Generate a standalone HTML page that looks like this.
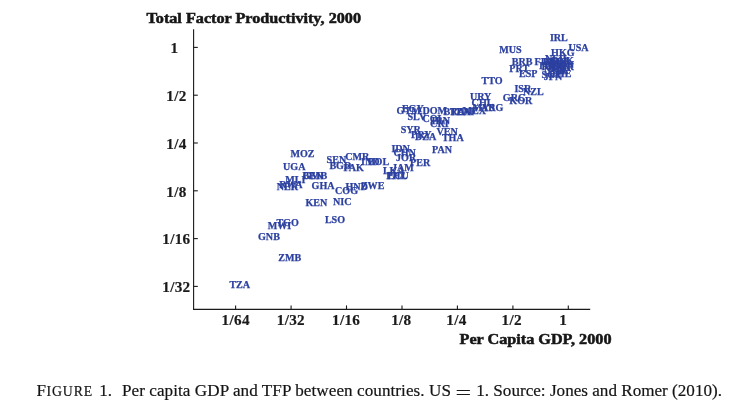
<!DOCTYPE html>
<html lang="en">
<head>
<meta charset="utf-8">
<title>Figure 1. Per capita GDP and TFP between countries</title>
<style>
html,body{margin:0;padding:0;background:#fff;}
body{width:731px;height:418px;overflow:hidden;position:relative;}
svg{position:absolute;left:0;top:0;display:block;}
text{font-family:"Liberation Serif","DejaVu Serif",serif;}
.lab text{font-size:10.1px;font-weight:bold;fill:#2c40a0;stroke:#2c40a0;stroke-width:0.25px;}
.tick text{font-size:15.2px;font-weight:bold;fill:#1a1a1a;stroke:#1a1a1a;stroke-width:0.18px;letter-spacing:0.3px;text-anchor:middle;}
.title{font-size:14.1px;font-weight:bold;fill:#161616;stroke:#161616;stroke-width:0.5px;}
.cap{font-size:17.1px;fill:#141414;stroke:#141414;stroke-width:0.2px;}
.sc{font-size:13.8px;letter-spacing:0.85px;}
.eq{font-size:19px;fill:#1a1a1a;}
.ax line{stroke:#1a1a1a;stroke-width:1.1;}
</style>
</head>
<body>
<svg width="731" height="418" viewBox="0 0 731 418">
<rect x="0" y="0" width="731" height="418" fill="#ffffff"/>
<g class="ax">
<line x1="193.6" y1="29.3" x2="193.6" y2="309.9"/>
<line x1="193.1" y1="309.4" x2="590.2" y2="309.4"/>
<line x1="235.6" y1="305.4" x2="235.6" y2="309.4"/>
<line x1="291.1" y1="305.4" x2="291.1" y2="309.4"/>
<line x1="346.5" y1="305.4" x2="346.5" y2="309.4"/>
<line x1="402.0" y1="305.4" x2="402.0" y2="309.4"/>
<line x1="457.4" y1="305.4" x2="457.4" y2="309.4"/>
<line x1="512.9" y1="305.4" x2="512.9" y2="309.4"/>
<line x1="568.3" y1="305.4" x2="568.3" y2="309.4"/>
<line x1="193.6" y1="47.4" x2="197.8" y2="47.4"/>
<line x1="193.6" y1="95.2" x2="197.8" y2="95.2"/>
<line x1="193.6" y1="143.0" x2="197.8" y2="143.0"/>
<line x1="193.6" y1="190.8" x2="197.8" y2="190.8"/>
<line x1="193.6" y1="238.6" x2="197.8" y2="238.6"/>
<line x1="193.6" y1="286.4" x2="197.8" y2="286.4"/>
</g>
<g class="tick">
<text x="235.7" y="325.0">1/64</text>
<text x="290.9" y="325.0">1/32</text>
<text x="346.1" y="325.0">1/16</text>
<text x="401.3" y="325.0">1/8</text>
<text x="456.5" y="325.0">1/4</text>
<text x="511.7" y="325.0">1/2</text>
<text x="563.3" y="325.0">1</text>
<text x="174.5" y="53.2">1</text>
<text x="176.4" y="101.0">1/2</text>
<text x="176.4" y="148.8">1/4</text>
<text x="176.4" y="196.6">1/8</text>
<text x="176.4" y="244.4">1/16</text>
<text x="176.4" y="292.2">1/32</text>
</g>
<text class="title" x="146.5" y="22.6" textLength="214.5" lengthAdjust="spacingAndGlyphs">Total Factor Productivity, 2000</text>
<text class="title" x="459.5" y="343.8" textLength="152" lengthAdjust="spacingAndGlyphs">Per Capita GDP, 2000</text>
<g class="lab">
<text x="229.4" y="288.3">TZA</text>
<text x="278.3" y="260.9">ZMB</text>
<text x="258.0" y="239.8">GNB</text>
<text x="267.7" y="228.8">MWI</text>
<text x="276.4" y="225.8">TGO</text>
<text x="324.9" y="223.0">LSO</text>
<text x="305.4" y="205.9">KEN</text>
<text x="333.0" y="204.7">NIC</text>
<text x="290.4" y="156.8">MOZ</text>
<text x="283.0" y="169.7">UGA</text>
<text x="326.6" y="162.7">SEN</text>
<text x="345.2" y="160.0">CMR</text>
<text x="361.0" y="164.5">IND</text>
<text x="367.8" y="165.2">BOL</text>
<text x="329.4" y="168.5">BGD</text>
<text x="343.4" y="170.8">PAK</text>
<text x="302.4" y="178.6">BEN</text>
<text x="303.0" y="178.6">GMB</text>
<text x="285.3" y="183.4">MLI</text>
<text x="279.3" y="188.0">RWA</text>
<text x="276.8" y="190.2">NER</text>
<text x="311.6" y="188.8">GHA</text>
<text x="335.0" y="193.5">COG</text>
<text x="345.4" y="190.1">HND</text>
<text x="360.9" y="188.6">ZWE</text>
<text x="391.4" y="152.0">IDN</text>
<text x="393.4" y="156.4">CHN</text>
<text x="396.0" y="161.3">JOR</text>
<text x="410.0" y="166.2">PER</text>
<text x="392.0" y="171.1">JAM</text>
<text x="382.9" y="173.5">LKA</text>
<text x="386.3" y="178.7">PHL</text>
<text x="387.5" y="178.8">ECU</text>
<text x="432.0" y="153.1">PAN</text>
<text x="469.9" y="100.3">URY</text>
<text x="471.6" y="105.8">CHL</text>
<text x="472.5" y="111.1">MYS</text>
<text x="480.9" y="111.1">ARG</text>
<text x="502.8" y="100.6">GRC</text>
<text x="509.3" y="104.0">KOR</text>
<text x="514.4" y="91.6">ISR</text>
<text x="523.0" y="94.7">NZL</text>
<text x="401.9" y="111.8">EGY</text>
<text x="396.6" y="114.1">GTM</text>
<text x="422.4" y="114.3">DOM</text>
<text x="443.6" y="115.1">BRA</text>
<text x="450.0" y="114.9">TUN</text>
<text x="456.2" y="114.5">ZAF</text>
<text x="462.4" y="114.1">MEX</text>
<text x="407.5" y="119.9">SLV</text>
<text x="422.4" y="122.0">COL</text>
<text x="431.5" y="123.9">IRN</text>
<text x="430.1" y="127.3">CRI</text>
<text x="400.7" y="133.0">SYR</text>
<text x="411.1" y="137.6">PRY</text>
<text x="415.0" y="140.0">DZA</text>
<text x="436.4" y="135.3">VEN</text>
<text x="441.9" y="141.0">THA</text>
<text x="549.9" y="41.0">IRL</text>
<text x="568.4" y="51.2">USA</text>
<text x="551.1" y="56.0">HKG</text>
<text x="499.3" y="52.5">MUS</text>
<text x="511.8" y="65.2">BRB</text>
<text x="509.3" y="71.6">PRT</text>
<text x="519.0" y="77.1">ESP</text>
<text x="481.5" y="84.4">TTO</text>
<text x="545.0" y="62.2">NLD</text>
<text x="534.6" y="64.6">FIN</text>
<text x="543.0" y="64.5">BEL</text>
<text x="548.0" y="64.8">AUT</text>
<text x="551.5" y="63.8">DNK</text>
<text x="539.0" y="69.0">ITA</text>
<text x="541.5" y="70.0">FRA</text>
<text x="545.0" y="68.5">GBR</text>
<text x="549.0" y="71.0">CAN</text>
<text x="547.0" y="67.0">AUS</text>
<text x="552.0" y="69.5">GER</text>
<text x="550.0" y="68.1">TWN</text>
<text x="544.0" y="73.0">NOR</text>
<text x="552.0" y="73.5">ISL</text>
<text x="541.6" y="78.0">SGP</text>
<text x="543.7" y="79.5">JPN</text>
<text x="549.5" y="77.0">CHE</text>
</g>
<text class="cap" y="396.2"><tspan x="36.4">F</tspan><tspan class="sc" x="46.6">IGURE</tspan> <tspan x="99.2">1.</tspan> <tspan x="121.9" textLength="329" lengthAdjust="spacing">Per capita GDP and TFP between countries. US</tspan></text>
<text class="eq" transform="translate(455.2,398.6) scale(1.5,1)">=</text>
<text class="cap" x="476.2" y="396.2" textLength="245.8" lengthAdjust="spacing">1. Source: Jones and Romer (2010).</text>
</svg>
</body>
</html>
